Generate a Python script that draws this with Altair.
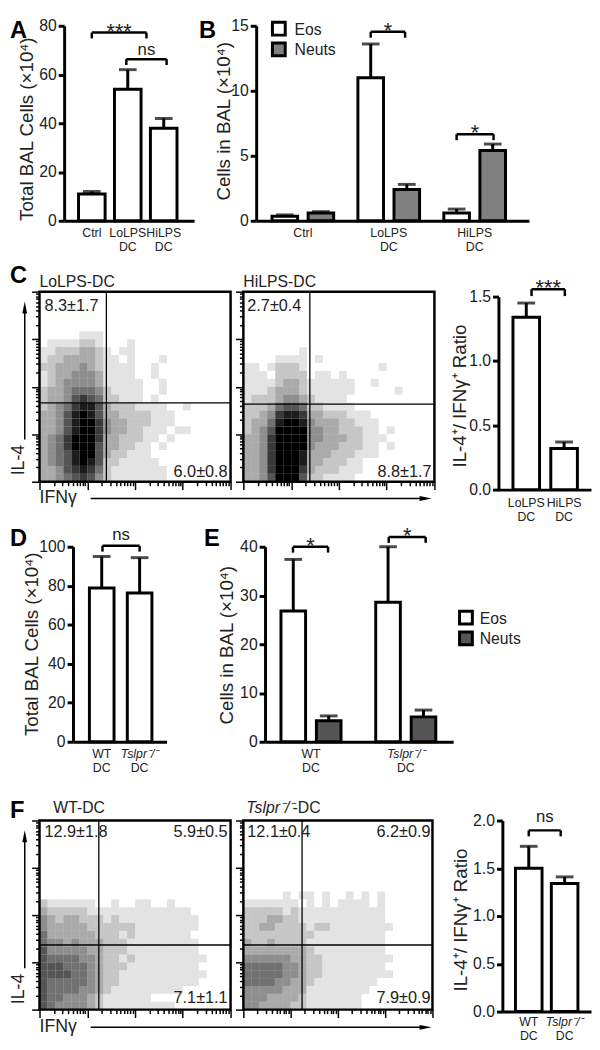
import altair as alt
import pandas as pd

FONT = "Liberation Sans"
INK = "#222222"

# ---------------- Panel A ----------------
A_line1 = ["Ctrl", "LoLPS", "HiLPS"]
A_line2 = ["", "DC", "DC"]
A_mean = [11.0, 54.0, 38.0]
A_sem = [1.0, 8.0, 4.0]
A_sig_x1 = [0.0, 0.96]
A_sig_x2 = [1.52, 2.08]
A_sig_y = [77.2, 66.3]
A_sig_txt = ["***", "ns"]
A_yticks = [0, 20, 40, 60, 80]

# ---------------- Panel B ----------------
B_line1 = ["Ctrl", "LoLPS", "HiLPS"]
B_line2 = ["", "DC", "DC"]
B_eos_mean = [0.35, 11.0, 0.6]
B_eos_sem = [0.1, 2.6, 0.3]
B_neut_mean = [0.6, 2.4, 5.4]
B_neut_sem = [0.1, 0.4, 0.5]
B_sig_x1 = [0.79, 1.79]
B_sig_x2 = [1.19, 2.22]
B_sig_y = [14.54, 6.66]
B_sig_txt = ["*", "*"]
B_yticks = [0, 5, 10, 15]
cell_types = ["Eos", "Neuts"]

# ---------------- Panel C ----------------
C_titles = ["LoLPS-DC", "HiLPS-DC"]
C_lo_quads = ["8.3±1.7", "6.0±0.8"]
C_hi_quads = ["2.7±0.4", "8.8±1.7"]
C_lo_gate = [8.4, 14.05]
C_hi_gate = [8.35, 14.2]
C_lo_density = [
    "", "", "", "", "",
    "00000111",
    "011112210001",
    "112223321011",
    "1223333211010001",
    "223334321111001",
    "123344431111001",
    "1234444311111001",
    "2334555421111001",
    "233467652211101",
    "2345788632221111001",
    "33468986332222111",
    "33468997433222111",
    "3346899743322111011",
    "34579997332221101",
    "3457999633221101",
    "34568996322111",
    "345689862211111",
    "3346787521111111",
    "3345676421111111",
]
C_hi_density = [
    "", "", "", "", "", "", "",
    "00000001",
    "0000111101",
    "110122210000000001",
    "1110222201101",
    "11112332111111001",
    "11123332111111000001",
    "1222344321111",
    "22235665221111",
    "2234788733222111",
    "23358998433322111",
    "2346999944332221101",
    "334799994433322111",
    "3347999943332221101",
    "33479998333222111",
    "334799983322211",
    "334799973222111",
    "33469996221111",
]
C_line1 = ["LoLPS", "HiLPS"]
C_line2 = ["DC", "DC"]
C_mean = [1.34, 0.32]
C_sem = [0.11, 0.05]
C_sig_x1 = [0.14]
C_sig_x2 = [1.02]
C_sig_y = [1.557]
C_sig_txt = ["***"]
C_yticks = [0, 0.5, 1.0, 1.5]

# ---------------- Panel D ----------------
D_line1 = ["WT", "Tslpr⁻/⁻"]
D_line2 = ["DC", "DC"]
D_italic = [False, True]
D_mean = [78.8, 76.3]
D_sem = [16.2, 18.1]
D_sig_x1 = [0.02]
D_sig_x2 = [1.0]
D_sig_y = [100.5]
D_sig_txt = ["ns"]
D_yticks = [0, 20, 40, 60, 80, 100]

# ---------------- Panel E ----------------
E_eos_mean = [26.8, 28.6]
E_eos_sem = [10.6, 11.4]
E_neut_mean = [4.3, 5.1]
E_neut_sem = [1.0, 1.4]
E_sig_x1 = [-0.19, 0.82]
E_sig_x2 = [0.18, 1.21]
E_sig_y = [40.0, 42.0]
E_sig_txt = ["*", "*"]
E_yticks = [0, 10, 20, 30, 40]

# ---------------- Panel F ----------------
F_wt_title = "WT-DC"
F_ko_title = ["Tslpr⁻/⁻", "-DC"]
F_wt_quads = ["12.9±1.8", "5.9±0.5", "7.1±1.1"]
F_ko_quads = ["12.1±0.4", "6.2±0.9", "7.9±0.9"]
F_wt_gate = [7.45, 15.8]
F_ko_gate = [7.45, 15.8]
F_wt_density = [
    "", "", "", "", "", "", "", "", "", "",
    "21111110010011001",
    "3222221111111111111",
    "43233222121111111111",
    "43333322222211111111",
    "5333333222121111111",
    "54434333222111111111",
    "64444433222111111111",
    "655554432212111111111",
    "66655543222111111111",
    "666655432211111111111",
    "65555543221111111111",
    "655554432111111111",
    "65544432111111",
    "65444432111111111",
]
F_ko_density = [
    "", "", "", "", "", "", "", "", "",
    "000001011010010101",
    "111111101010111101",
    "222221211111111111",
    "222332211111111111",
    "2233222212211111111",
    "222222222111111111",
    "322322221111111111",
    "333333332111111111",
    "4444443322111111111",
    "555554432211111111",
    "5555544322111111111",
    "55554433211111111",
    "4444433311111111",
    "444333321111111",
    "443333221111111",
]
F_mean = [1.50, 1.34]
F_sem = [0.23, 0.07]
F_sig_x1 = [0.0]
F_sig_x2 = [0.89]
F_sig_y = [1.897]
F_sig_txt = ["ns"]
F_yticks = [0, 0.5, 1.0, 1.5, 2.0]

# ======================================================================
ONE = pd.DataFrame({"k": [0]})
LABEL_SIZE = 12.5


def txt(s, x, y, size=16, align="left", baseline="alphabetic", angle=0,
        weight="normal", style="normal", color=INK):
    kw = dict(text=s, fontSize=size, align=align, baseline=baseline,
              fontWeight=weight, fontStyle=style, color=color)
    if angle:
        kw["angle"] = angle
    return alt.Chart(ONE).mark_text(**kw).encode(x=alt.value(x), y=alt.value(y))


def letter(ch, x, y):
    return txt(ch, x, y, size=24, weight="bold", color="black")


def spacer(y1, y2):
    return alt.Chart(ONE).mark_rule(opacity=0).encode(
        x=alt.value(0), y=alt.value(y1), y2=alt.value(y2))


def legend(names, fills, x, y0, dy, tx):
    out = []
    for i, (n, f) in enumerate(zip(names, fills)):
        out.append(alt.Chart(ONE).mark_square(size=169, fill=f, stroke="black",
                                              strokeWidth=3, opacity=1).encode(
            x=alt.value(x), y=alt.value(y0 + i * dy)))
        out.append(txt(n, tx, y0 + i * dy + 1, size=16, baseline="middle"))
    return out


def bar_df(mean, sem, offset=0.0):
    return pd.DataFrame({
        "pos": [i + offset for i in range(len(mean))],
        "mean": mean,
        "top": [m + s for m, s in zip(mean, sem)],
        "base": [0.0] * len(mean),
    })


def sig_df(x1, x2, y, t):
    return pd.DataFrame({"x1": x1, "x2": x2, "y": y, "txt": t})


def bar_panel(W, H, xdom, ydom, yticks, yfmt, series, sig, drop, lab1, lab2, ital,
              ytitle, tpos, lab_off, xoff=0, yrange=None, star_dy=6, ns_dy=-4, extra=()):
    xs = alt.Scale(domain=xdom, nice=False, zero=False, range=[xoff, W])
    if yrange is None:
        ys = alt.Scale(domain=ydom, nice=False, zero=False)
    else:
        ys = alt.Scale(domain=ydom, nice=False, zero=False, range=yrange)
    xax = alt.Axis(labels=False, ticks=False, grid=False, title=None,
                   domainWidth=3, domainColor="black")
    ykw = dict(values=yticks, format=yfmt, tickSize=6, tickWidth=3, tickColor="black",
               domainWidth=3, domainColor="black", labelFontSize=16, labelColor=INK,
               labelPadding=2, grid=False, title=None)
    if xoff:
        ykw["offset"] = -xoff
    yax = alt.Axis(**ykw)

    def X(f):
        return alt.X(f, type="quantitative", scale=xs, axis=xax)

    def Y(f):
        return alt.Y(f, type="quantitative", scale=ys, axis=yax)

    layers = []
    for df, fill, size in series:
        base = alt.Chart(df)
        layers.append(base.mark_bar(orient="vertical", size=size, fill=fill, stroke="black",
                                    strokeWidth=3).encode(x=X("pos"), y=Y("mean"), y2="base"))
        layers.append(base.mark_rule(color="black", strokeWidth=3).encode(
            x=X("pos"), y=Y("mean"), y2="top"))
        layers.append(base.mark_tick(orient="horizontal", size=18, thickness=3,
                                     color="black").encode(x=X("pos"), y=Y("top")))

    sb = alt.Chart(sig).transform_calculate(
        xm="(datum.x1 + datum.x2) / 2", yd=f"datum.y - {drop}")
    layers.append(sb.mark_rule(color="black", strokeWidth=2.5).encode(
        x=X("x1"), x2="x2", y=Y("y")))
    layers.append(sb.transform_fold(["x1", "x2"], as_=["end", "xe"]).mark_rule(
        color="black", strokeWidth=2.5).encode(x=X("xe"), y=Y("y"), y2="yd"))
    layers.append(sb.transform_filter("datum.txt != 'ns'").mark_text(
        dy=star_dy, fontSize=22, baseline="alphabetic", color=INK).encode(
        x=X("xm"), y=Y("y"), text="txt:N"))
    layers.append(sb.transform_filter("datum.txt == 'ns'").mark_text(
        dy=ns_dy, fontSize=17, baseline="alphabetic", color=INK).encode(
        x=X("xm"), y=Y("y"), text="txt:N"))

    ldf = pd.DataFrame({"pos": list(range(len(lab1))), "l1": lab1, "l2": lab2, "it": ital})
    lb = alt.Chart(ldf)
    layers.append(lb.transform_filter("!datum.it").mark_text(
        fontSize=LABEL_SIZE, baseline="middle", color=INK).encode(
        x=X("pos"), y=alt.value(H + lab_off[0]), text="l1:N"))
    layers.append(lb.transform_filter("datum.it").mark_text(
        fontSize=LABEL_SIZE, fontStyle="italic", baseline="middle", color=INK).encode(
        x=X("pos"), y=alt.value(H + lab_off[0]), text="l1:N"))
    layers.append(lb.mark_text(fontSize=LABEL_SIZE, baseline="middle", color=INK).encode(
        x=X("pos"), y=alt.value(H + lab_off[1]), text="l2:N"))

    layers.append(txt(ytitle, tpos[0] + xoff, tpos[1], size=19, align="center",
                      baseline="middle", angle=270))
    layers += list(extra)
    return alt.layer(*layers).properties(width=W, height=H)


MAJOR = "abs(log(datum.value) / LN10 - round(log(datum.value) / LN10)) < 0.001"
TICK_SIZE = {"condition": {"test": MAJOR, "value": 8}, "value": 4}
LOG_ENDS = pd.DataFrame({"lx": [1, 10000], "ly": [1, 10000]})


def decor():
    arrow_up = "M0,-1L0.4,1L-0.4,1Z"
    arrow_right = "M1,0L-1,-0.4L-1,0.4Z"
    return [
        alt.Chart(ONE).mark_rule(color="black", strokeWidth=1.5).encode(
            x=alt.value(-15), y=alt.value(20), y2=alt.value(150)),
        alt.Chart(ONE).mark_point(shape=arrow_up, filled=True, color="black", size=150,
                                  opacity=1).encode(x=alt.value(-15), y=alt.value(16)),
        txt("IL-4", -21, 171, size=18, align="center", baseline="middle", angle=270),
        alt.Chart(ONE).mark_rule(color="black", strokeWidth=1.5).encode(
            x=alt.value(52), x2=alt.value(392), y=alt.value(210)),
        alt.Chart(ONE).mark_point(shape=arrow_right, filled=True, color="black", size=150,
                                  opacity=1).encode(x=alt.value(392), y=alt.value(210)),
        txt("IFNγ", 0, 210, size=18, baseline="middle"),
    ]


def flow(W, H, grid, gate, notes, titles, extra=()):
    cells = []
    for r, row in enumerate(grid):
        for c, ch in enumerate(row.ljust(24, "0")):
            if ch != "0":
                cells.append({"c": c, "r": r, "v": int(ch)})
    gdf = pd.DataFrame(cells)
    sx = alt.Scale(domain=[0, 24], nice=False, zero=False)
    sy = alt.Scale(domain=[0, 24], nice=False, zero=False, reverse=True)
    L = []
    L.append(alt.Chart(gdf).transform_calculate(c2="datum.c + 1", r2="datum.r + 1").mark_rect(
        color="black").encode(
        x=alt.X("c:Q", scale=sx, axis=None), x2="c2",
        y=alt.Y("r:Q", scale=sy, axis=None), y2="r2",
        opacity=alt.Opacity("v:Q", scale=alt.Scale(domain=[0, 9], range=[0, 1]), legend=None)))
    gd = pd.DataFrame({"gx": [gate[0]], "gy": [gate[1]]})
    L.append(alt.Chart(gd).mark_rule(color="black", strokeWidth=1.3).encode(
        x=alt.X("gx:Q", scale=sx, axis=None), y=alt.value(0), y2=alt.value(H)))
    L.append(alt.Chart(gd).mark_rule(color="black", strokeWidth=1.3).encode(
        y=alt.Y("gy:Q", scale=sy, axis=None), x=alt.value(0), x2=alt.value(W)))
    L.append(alt.Chart(LOG_ENDS).mark_point(opacity=0).encode(
        x=alt.X("lx:Q", scale=alt.Scale(type="log", domain=[1, 10000], nice=False),
                axis=alt.Axis(orient="bottom", labels=False, domain=False, grid=False,
                              title=None, tickCount=40, tickColor="black", tickWidth=1.5,
                              tickSize=TICK_SIZE)),
        y=alt.Y("ly:Q", scale=alt.Scale(type="log", domain=[1, 10000], nice=False),
                axis=alt.Axis(orient="left", labels=False, domain=False, grid=False,
                              title=None, tickCount=40, tickColor="black", tickWidth=1.5,
                              tickSize=TICK_SIZE))))
    for s, x, y, a in notes:
        L.append(txt(s, x, y, size=16.5, align=a))
    L += list(titles)
    L += list(extra)
    return alt.layer(*L).resolve_scale(x="independent", y="independent").properties(
        width=W, height=H, view=alt.ViewBackground(stroke="black", strokeWidth=2.5))


# ---------------- build panels (every row's first panel starts at page x=38) ----------------
# Row 1 plots are drawn 10px above their panel origin (range shifted up).
A = bar_panel(157, 188, [-0.633, 2.709], [0, 80], A_yticks, "d",
              [(bar_df(A_mean, A_sem), "white", 27)],
              sig_df(A_sig_x1, A_sig_x2, A_sig_y, A_sig_txt), 2.4,
              A_line1, A_line2, [False] * 3, "Total BAL Cells (×10⁴)", (-38, 95), (12, 27),
              xoff=25, yrange=[188, -10],
              extra=[letter("A", -30, 2), spacer(-17, 225)])

B = bar_panel(277, 188, [-0.486, 2.575], [0, 15], B_yticks, "d",
              [(bar_df(B_eos_mean, B_eos_sem, -0.21), "white", 26),
               (bar_df(B_neut_mean, B_neut_sem, 0.21), "#808080", 26)],
              sig_df(B_sig_x1, B_sig_x2, B_sig_y, B_sig_txt), 0.46,
              B_line1, B_line2, [False] * 3, "Cells in BAL (×10⁴)", (-33, 87), (12, 27),
              yrange=[188, -10],
              extra=[letter("B", -58, 2)] + legend(cell_types, ["white", "#808080"], 23, -7, 21, 39))

C1 = flow(194, 193, C_lo_density, C_lo_gate,
          [(C_lo_quads[0], 5, 20, "left"), (C_lo_quads[1], 191, 188, "right")],
          [txt(C_titles[0], 0, -5, size=16)],
          extra=[letter("C", -30, -9), spacer(-42, 240)] + decor())
C2 = flow(194, 193, C_hi_density, C_hi_gate,
          [(C_hi_quads[0], 4, 20, "left"), (C_hi_quads[1], 191, 188, "right")],
          [txt(C_titles[1], 0, -5, size=16)])
Cb = bar_panel(146, 201, [-0.605, 1.581], [0, 1.5], C_yticks, ".1f",
               [(bar_df(C_mean, C_sem), "white", 27)],
               sig_df(C_sig_x1, C_sig_x2, C_sig_y, C_sig_txt), 0.053,
               C_line1, C_line2, [False, False], "IL-4⁺/ IFNγ⁺ Ratio", (-39, 106), (14, 28),
               xoff=52, yrange=[201, 5])

D = bar_panel(129, 198, [-0.628, 1.581], [0, 100], D_yticks, "d",
              [(bar_df(D_mean, D_sem), "white", 25)],
              sig_df(D_sig_x1, D_sig_x2, D_sig_y, D_sig_txt), 3.0,
              D_line1, D_line2, D_italic, "Total BAL Cells (×10⁴)", (-42, 99), (12, 27),
              xoff=34, ns_dy=-6, extra=[letter("D", -30, -1), spacer(-26, 242)])

E = bar_panel(191, 198, [-0.433, 1.448], [0, 40], E_yticks, "d",
              [(bar_df(E_eos_mean, E_eos_sem, -0.187), "white", 25),
               (bar_df(E_neut_mean, E_neut_sem, 0.187), "#555555", 25)],
              sig_df(E_sig_x1, E_sig_x2, E_sig_y, E_sig_txt), 1.2,
              D_line1, D_line2, D_italic, "Cells in BAL (×10⁴)", (-39, 100), (12, 27),
              extra=[letter("E", -62, -1)] + legend(cell_types, ["white", "#555555"], 204, 72, 21, 218))

F1 = flow(194, 192, F_wt_density, F_wt_gate,
          [(F_wt_quads[0], 5, 17, "left"), (F_wt_quads[1], 191, 17, "right"),
           (F_wt_quads[2], 191, 185, "right")],
          [txt(F_wt_title, 14, -8, size=16)],
          extra=[letter("F", -30, -3), spacer(-43, 226)] + decor())
F2 = flow(192, 192, F_ko_density, F_ko_gate,
          [(F_ko_quads[0], 4, 17, "left"), (F_ko_quads[1], 190, 17, "right"),
           (F_ko_quads[2], 190, 185, "right")],
          [txt(F_ko_title[0], 3, -8, size=16, style="italic"), txt(F_ko_title[1], 50, -8, size=16)])
Fb = bar_panel(148, 194, [-0.598, 1.598], [0, 2.0], F_yticks, ".1f",
               [(bar_df(F_mean, F_sem), "white", 27)],
               sig_df(F_sig_x1, F_sig_x2, F_sig_y, F_sig_txt), 0.062,
               D_line1, D_line2, D_italic, "IL-4⁺/ IFNγ⁺ Ratio", (-42, 101), (11, 25),
               xoff=58, ns_dy=-8)

row1 = alt.hconcat(A, B, spacing=63, bounds="flush")
row2 = alt.hconcat(C1, C2, Cb, spacing=13, bounds="flush")
row3 = alt.hconcat(D, E, spacing=100, bounds="flush")
row4 = alt.hconcat(F1, F2, Fb, spacing=13, bounds="flush")

chart = alt.vconcat(row1, row2, row3, row4, spacing=-10).properties(
    padding=0
).configure(font=FONT).configure_view(stroke="transparent")

chart.save("out.html", embed_options={"renderer": "svg", "actions": False})
